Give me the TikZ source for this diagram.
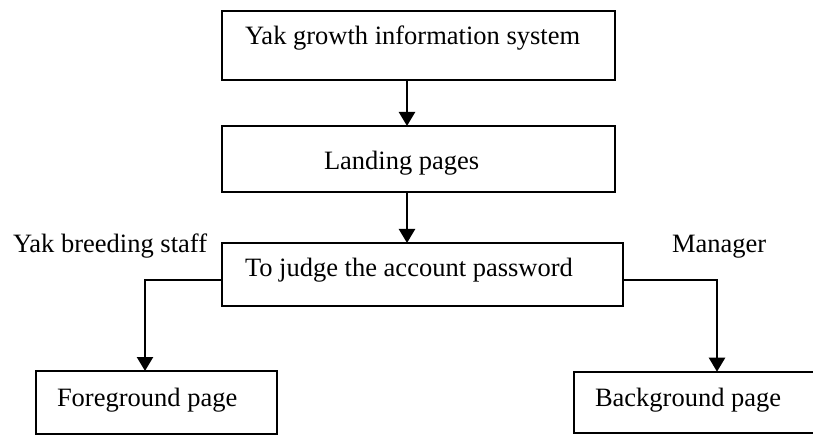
\documentclass[tikz,border=0pt]{standalone}
\usepackage{fontspec}
\setmainfont{Liberation Serif}
\usetikzlibrary{arrows.meta,fit}
\begin{document}
\begin{tikzpicture}[x=1pt,y=-1pt,
  box/.style={draw=black,line width=1.8pt,inner sep=0pt,outer sep=0pt,rectangle},
  txt/.style={inner sep=0pt,outer sep=0pt,anchor=base west,font=\fontsize{26.5}{32}\selectfont},
  arr/.style={line width=2.4pt,-{Triangle[width=16pt,length=14pt]}}]
\useasboundingbox (0,0) rectangle (813,435);
\node[box,fit={(222,10.7) (615,80)}] (b1) {};
\node[box,fit={(222,126) (615,191.7)}] (b2) {};
\node[box,fit={(222,243) (622.7,306)}] (b3) {};
\node[box,fit={(36,371) (277,434)}] (fg) {};
\node[box,fit={(574,371.7) (822,433)}] (bg) {};
\node[txt] (t1) at (245,45) {Yak growth information system};
\node[txt] (t2) at (324,170) {Landing pages};
\node[txt] (t3) at (245,277) {To judge the account password};
\node[txt] (t4) at (57,406) {Foreground page};
\node[txt] (t5) at (595,406) {Background page};
\node[txt] (l1) at (13,253) {Yak breeding staff};
\node[txt] (l2) at (672,253) {Manager};
\coordinate (cx) at (407,0);
\coordinate (ly) at (0,280);
\coordinate (lx) at (145,0);
\coordinate (rx) at (717,0);
\draw[arr] (b1.south -| cx) -- (b2.north -| cx);
\draw[arr] (b2.south -| cx) -- (b3.north -| cx);
\draw[arr] (b3.west |- ly) -| (fg.north -| lx);
\draw[arr] (b3.east |- ly) -| (bg.north -| rx);
\end{tikzpicture}
\end{document}
